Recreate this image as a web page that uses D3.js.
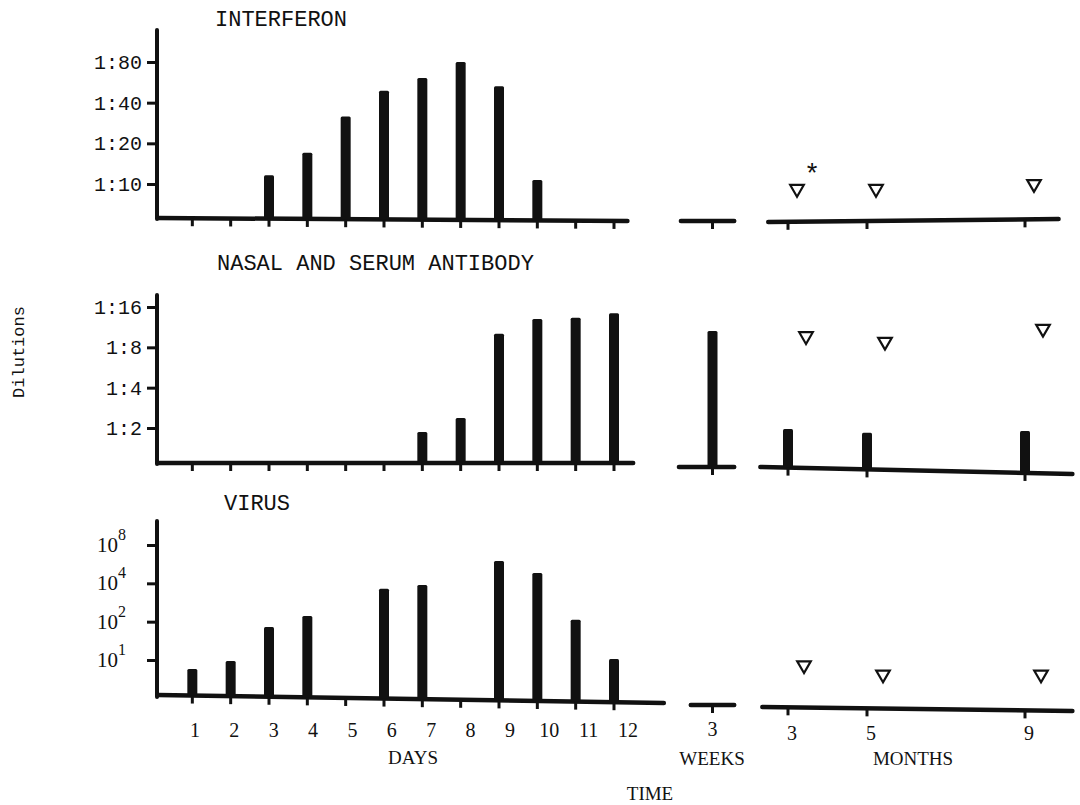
<!DOCTYPE html>
<html>
<head>
<meta charset="utf-8">
<script src="https://cdn.jsdelivr.net/npm/d3@7"></script>
<style>
  body { margin: 0; background: #fff; }
  .mono { font-family: "Liberation Mono", "DejaVu Sans Mono", monospace; fill: #111; }
  .serif { font-family: "Liberation Serif", "DejaVu Serif", serif; fill: #111; }
</style>
</head>
<body>
<svg id="chart" width="1080" height="805"></svg>
<script>
// time points
const days = [1, 2, 3, 4, 5, 6, 7, 8, 9, 10, 11, 12];
const weeks = [3];
const months = [3, 5, 9];

// interferon titers (reciprocal dilution)
const interferonDays = [3, 4, 5, 6, 7, 8, 9, 10];
const interferonTiters = [11.6, 17, 31.6, 49, 61, 80, 53, 10.7];
const interferonMonthMarks = [9.2, 9.2, 10];

// nasal and serum antibody (reciprocal dilution)
const antibodyDays = [7, 8, 9, 10, 11, 12];
const antibodyTiters = [1.87, 2.38, 10.1, 13, 13.3, 14.4];
const antibodyWeekTiters = [10.6];
const antibodyMonthTiters = [1.97, 1.84, 1.9];
const antibodyMonthMarks = [9.7, 8.8, 11];

// virus (log10 titer)
const virusDays = [1, 2, 3, 4, 6, 7, 9, 10, 11, 12];
const virusLogTiters = [0.85, 0.98, 1.82, 2.22, 3.62, 3.89, 6.0, 4.83, 2.07, 1.02];
const virusMonthMarks = [0.91, 0.77, 0.77];

// y tick values / labels
const interferonTicks = [10, 20, 40, 80];
const interferonTickLabels = ['1:10', '1:20', '1:40', '1:80'];
const antibodyTicks = [2, 4, 8, 16];
const antibodyTickLabels = ['1:2', '1:4', '1:8', '1:16'];
const virusTicks = [1, 2, 4, 8];


/**
 * Layout
 */

const axisX = 157;
const barWidth = 10;

const xDay = d3.scaleLinear().domain([0, 12]).range([154, 614]);
const xWeek = d3.scaleLinear().domain([2, 4]).range([673, 752]);
const xMonth = d3.scaleLinear().domain([3, 9]).range([788, 1025]);
const xDayLabel = d3.scaleLinear().domain([1, 12]).range([195, 628]);

const panels = [
  {
    title: 'INTERFERON', titleX: 215, titleY: 26,
    y: d3.scaleLog().base(2).domain([10, 80]).range([184, 62]),
    ticks: interferonTicks, tickLabels: interferonTickLabels,
    axisTop: 30, axisBottom: 219,
    daySeg: { span: [0.1, 12.35], y: [218, 221] },
    weekSeg: { span: [2.2, 3.55], y: [221, 221] },
    monthSeg: { span: [2.5, 9.85], y: [222, 219] },
    dayBars: interferonDays.map((d, i) => ({ t: d, v: interferonTiters[i] })),
    weekBars: [],
    monthBars: [],
    marks: interferonMonthMarks.map((v, i) => ({ t: months[i], v })),
    markDx: 9,
  },
  {
    title: 'NASAL AND SERUM ANTIBODY', titleX: 217, titleY: 270,
    y: d3.scaleLog().base(2).domain([2, 16]).range([428, 307]),
    ticks: antibodyTicks, tickLabels: antibodyTickLabels,
    axisTop: 295, axisBottom: 464,
    daySeg: { span: [0.1, 12.5], y: [463, 463] },
    weekSeg: { span: [2.15, 3.55], y: [467, 467] },
    monthSeg: { span: [2.3, 10.2], y: [467, 474] },
    dayBars: antibodyDays.map((d, i) => ({ t: d, v: antibodyTiters[i] })),
    weekBars: weeks.map((w, i) => ({ t: w, v: antibodyWeekTiters[i] })),
    monthBars: months.map((m, i) => ({ t: m, v: antibodyMonthTiters[i] })),
    marks: antibodyMonthMarks.map((v, i) => ({ t: months[i], v })),
    markDx: 18,
  },
  {
    title: 'VIRUS', titleX: 224, titleY: 510,
    y: d3.scaleLog().base(2).domain([1, 8]).range([660, 545]),
    ticks: virusTicks, tickLabels: null,
    axisTop: 521, axisBottom: 697,
    daySeg: { span: [0.1, 13.3], y: [695, 703] },
    weekSeg: { span: [2.45, 3.55], y: [705, 705] },
    monthSeg: { span: [2.35, 10.2], y: [707, 711] },
    dayBars: virusDays.map((d, i) => ({ t: d, v: virusLogTiters[i] })),
    weekBars: [],
    monthBars: [],
    marks: virusMonthMarks.map((v, i) => ({ t: months[i], v })),
    markDx: 16,
  },
];


/**
 * Drawing
 */

const svg = d3.select('#chart');

// baseline height at a given x along a (slightly tilted) segment
function segY(seg, scale, x) {
  const x0 = scale(seg.span[0]);
  const x1 = scale(seg.span[1]);
  return d3.scaleLinear().domain([x0, x1]).range(seg.y)(x);
}

panels.forEach(p => {
  const g = svg.append('g');

  g.append('text')
   .attr('class', 'mono')
   .attr('x', p.titleX)
   .attr('y', p.titleY)
   .style('font-size', '22px')
   .text(p.title);

  // y axis
  const yAxis = d3.axisLeft(p.y)
                  .tickValues(p.ticks)
                  .tickSize(10)
                  .tickPadding(5)
                  .tickFormat((d, i) => p.tickLabels ? p.tickLabels[i] : '');

  const ya = g.append('g')
              .attr('transform', `translate(${axisX},0)`)
              .call(yAxis);

  ya.select('.domain').remove();
  ya.selectAll('.tick line').attr('stroke', '#111').attr('stroke-width', 3);
  ya.selectAll('.tick text')
    .attr('class', 'mono')
    .style('font-size', '20px')
    .attr('fill', '#111');

  if (!p.tickLabels) {
    ya.selectAll('.tick text').remove();
    p.ticks.forEach(t => {
      const txt = g.append('text')
                   .attr('class', 'serif')
                   .attr('x', axisX - 60)
                   .attr('y', p.y(t) + 7)
                   .style('font-size', '21px');
      txt.append('tspan').text('10');
      txt.append('tspan')
         .attr('dy', -12)
         .style('font-size', '16px')
         .text(t);
    });
  }

  g.append('line')
   .attr('x1', axisX).attr('x2', axisX)
   .attr('y1', p.axisTop).attr('y2', p.axisBottom)
   .attr('stroke', '#111')
   .attr('stroke-width', 4)
   .attr('stroke-linecap', 'round');

  // x segments: days, weeks, months
  const segs = [
    { seg: p.daySeg, scale: xDay, ticks: days, bars: p.dayBars },
    { seg: p.weekSeg, scale: xWeek, ticks: weeks, bars: p.weekBars },
    { seg: p.monthSeg, scale: xMonth, ticks: months, bars: p.monthBars },
  ];

  segs.forEach(s => {
    g.append('line')
     .attr('x1', s.scale(s.seg.span[0]))
     .attr('x2', s.scale(s.seg.span[1]))
     .attr('y1', s.seg.y[0])
     .attr('y2', s.seg.y[1])
     .attr('stroke', '#111')
     .attr('stroke-width', 4.5)
     .attr('stroke-linecap', 'round');

    g.selectAll(null)
     .data(s.ticks)
     .enter()
     .append('line')
     .attr('x1', d => s.scale(d))
     .attr('x2', d => s.scale(d))
     .attr('y1', d => segY(s.seg, s.scale, s.scale(d)))
     .attr('y2', d => segY(s.seg, s.scale, s.scale(d)) + 8)
     .attr('stroke', '#111')
     .attr('stroke-width', 3);

    g.selectAll(null)
     .data(s.bars)
     .enter()
     .append('rect')
     .attr('x', d => s.scale(d.t) - barWidth / 2)
     .attr('y', d => p.y(d.v))
     .attr('width', barWidth)
     .attr('height', d => segY(s.seg, s.scale, s.scale(d.t)) - p.y(d.v))
     .attr('rx', 1.5)
     .attr('fill', '#111');
  });

  // open triangles (below detection)
  g.selectAll(null)
   .data(p.marks)
   .enter()
   .append('path')
   .attr('d', d3.symbol(d3.symbolTriangle, 80))
   .attr('transform', d => `translate(${xMonth(d.t) + p.markDx},${p.y(d.v)}) rotate(180)`)
   .attr('fill', '#fff')
   .attr('stroke', '#111')
   .attr('stroke-width', 2.2);
});

// asterisk beside first interferon triangle
svg.append('text')
   .attr('class', 'mono')
   .attr('x', xMonth(3) + 24)
   .attr('y', 183)
   .attr('text-anchor', 'middle')
   .style('font-size', '27px')
   .text('*');

// x labels
svg.selectAll('.day-label')
   .data(days)
   .enter()
   .append('text')
   .attr('class', 'serif day-label')
   .attr('x', d => xDayLabel(d))
   .attr('y', 737)
   .attr('text-anchor', 'middle')
   .style('font-size', '20px')
   .text(d => d);

svg.selectAll('.week-label')
   .data(weeks)
   .enter()
   .append('text')
   .attr('class', 'serif week-label')
   .attr('x', d => xWeek(d))
   .attr('y', 736)
   .attr('text-anchor', 'middle')
   .style('font-size', '20px')
   .text(d => d);

svg.selectAll('.month-label')
   .data(months)
   .enter()
   .append('text')
   .attr('class', 'serif month-label')
   .attr('x', d => xMonth(d) + 4)
   .attr('y', 740)
   .attr('text-anchor', 'middle')
   .style('font-size', '20px')
   .text(d => d);

const unitLabels = [
  { text: 'DAYS', x: 413, y: 764 },
  { text: 'WEEKS', x: 712, y: 765 },
  { text: 'MONTHS', x: 913, y: 765 },
  { text: 'TIME', x: 650, y: 800 },
];

svg.selectAll('.unit-label')
   .data(unitLabels)
   .enter()
   .append('text')
   .attr('class', 'serif unit-label')
   .attr('x', d => d.x)
   .attr('y', d => d.y)
   .attr('text-anchor', 'middle')
   .style('font-size', '19px')
   .text(d => d.text);

svg.append('text')
   .attr('class', 'mono')
   .attr('transform', 'translate(24,352) rotate(-90)')
   .attr('text-anchor', 'middle')
   .style('font-size', '17px')
   .text('Dilutions');
</script>
</body>
</html>
